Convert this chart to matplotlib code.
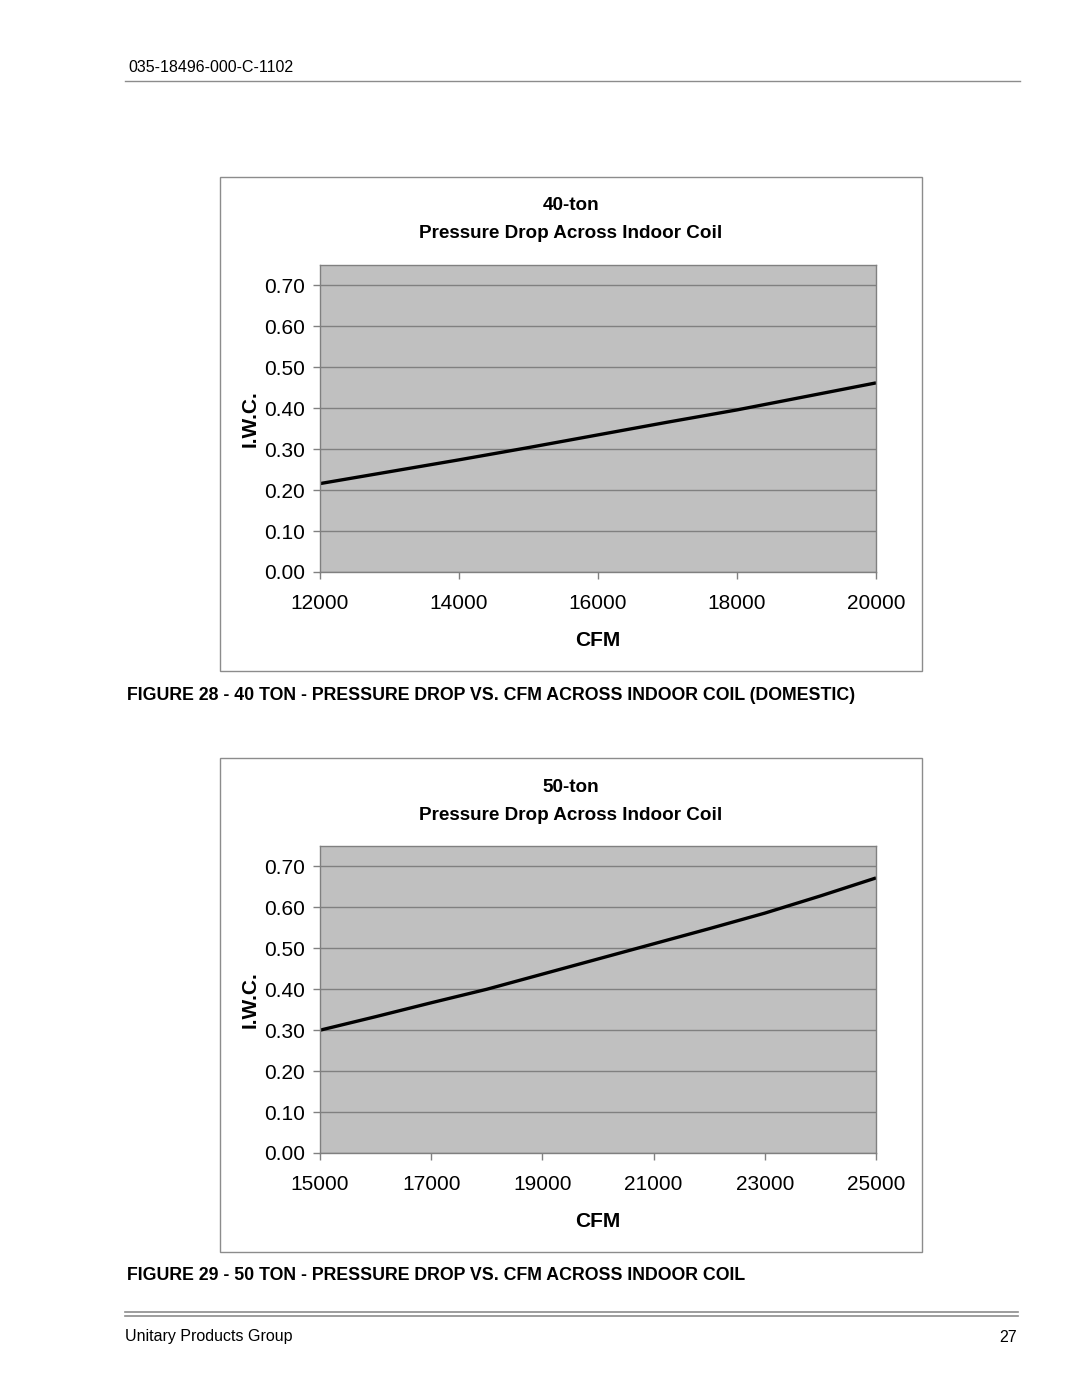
import matplotlib
matplotlib.use("Agg")
import matplotlib.pyplot as plt
from matplotlib.patches import Rectangle
from matplotlib.lines import Line2D
from matplotlib.ticker import FormatStrFormatter


W, H = 1080, 1397

# 40-ton coil
cfm_40 = [12000, 13000, 14000, 15000, 16000, 17000, 18000, 19000, 20000]
iwc_40 = [0.216, 0.245, 0.274, 0.304, 0.335, 0.366, 0.396, 0.429, 0.462]

# 50-ton coil
cfm_50 = [15000, 16000, 17000, 18000, 19000, 20000, 21000, 22000, 23000, 24000, 25000]
iwc_50 = [0.300, 0.333, 0.367, 0.400, 0.437, 0.474, 0.511, 0.548, 0.586, 0.628, 0.672]

yticks = [0.0, 0.1, 0.2, 0.3, 0.4, 0.5, 0.6, 0.7]
xticks_40 = [12000, 14000, 16000, 18000, 20000]
xticks_50 = [15000, 17000, 19000, 21000, 23000, 25000]

titles = [("40-ton", "Pressure Drop Across Indoor Coil"),
          ("50-ton", "Pressure Drop Across Indoor Coil")]
captions = [
    "FIGURE 28 - 40 TON - PRESSURE DROP VS. CFM ACROSS INDOOR COIL (DOMESTIC)",
    "FIGURE 29 - 50 TON - PRESSURE DROP VS. CFM ACROSS INDOOR COIL",
]

SANS = ["Liberation Sans", "DejaVu Sans"]
GRAY = "#808080"

plt.rcParams["font.family"] = SANS


def fx(x):
    return x / W


def fy(y):
    return 1 - y / H


def add_chart(fig, top, cfm, iwc, xticks, title, caption):
    # outer chart frame
    fig.patches.append(Rectangle((fx(220), fy(top + 494)), fx(922) - fx(220),
                                 494 / H, transform=fig.transFigure,
                                 fill=False, edgecolor="#8c8c8c", lw=1.0))
    fig.text(fx(571), fy(top + 29), title[0], ha="center", va="center",
             fontsize=13.6, fontweight="bold")
    fig.text(fx(571), fy(top + 57), title[1], ha="center", va="center",
             fontsize=13.6, fontweight="bold")

    ax_top, ax_bot = top + 88, top + 395
    ax = fig.add_axes([fx(320), fy(ax_bot), fx(876) - fx(320), (ax_bot - ax_top) / H])
    ax.set_facecolor("#c0c0c0")
    ax.plot(cfm, iwc, color="black", lw=2.4, solid_capstyle="butt")
    ax.set_xlim(xticks[0], xticks[-1])
    ax.set_ylim(0, 0.75)
    ax.set_xticks(xticks)
    ax.set_yticks(yticks)
    ax.yaxis.set_major_formatter(FormatStrFormatter("%.2f"))
    ax.grid(axis="y", color=GRAY, lw=1.0)
    ax.set_axisbelow(True)
    for sp in ax.spines.values():
        sp.set_color(GRAY)
        sp.set_linewidth(1.0)
    ax.tick_params(axis="y", colors=GRAY, labelcolor="black", length=5,
                   width=1, pad=6, labelsize=15)
    ax.tick_params(axis="x", colors=GRAY, labelcolor="black", length=5,
                   width=1, pad=11, labelsize=15)
    ax.set_xlabel("CFM", fontsize=15, fontweight="bold", labelpad=12.5)
    ax.set_ylabel("I.W.C.", fontsize=15, fontweight="bold", labelpad=3)

    fig.text(fx(127), fy(top + 518), caption, ha="left", va="center",
             fontsize=12.75, fontweight="bold")


fig = plt.figure(figsize=(W / 100, H / 100), dpi=100)

# page header
fig.text(fx(128), fy(68), "035-18496-000-C-1102", ha="left", va="center", fontsize=11.5)
fig.add_artist(Line2D([fx(125), fx(1020)], [fy(81), fy(81)], color="#8c8c8c", lw=1.0))

add_chart(fig, 177, cfm_40, iwc_40, xticks_40, titles[0], captions[0])
add_chart(fig, 758, cfm_50, iwc_50, xticks_50, titles[1], captions[1])

# page footer
for yy in (1312, 1316):
    fig.add_artist(Line2D([fx(125), fx(1018)], [fy(yy), fy(yy)], color="#8c8c8c", lw=1.2))
fig.text(fx(125), fy(1337), "Unitary Products Group", ha="left", va="center", fontsize=11.5)
fig.text(fx(1017), fy(1337), "27", ha="right", va="center", fontsize=11.5)

fig.savefig("out.png", dpi=100)
